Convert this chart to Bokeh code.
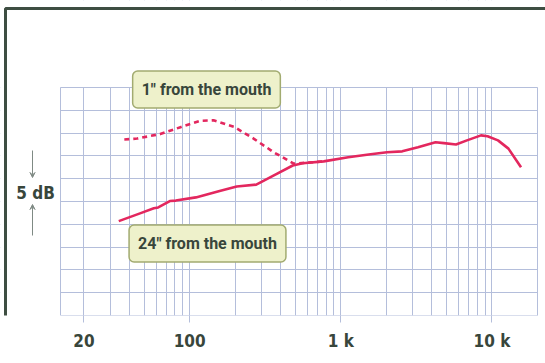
import math
from bokeh.plotting import figure
from bokeh.models import Range1d, FixedTicker, Label, Arrow, VeeHead, BoxAnnotation
from bokeh.embed import file_html
from bokeh.resources import INLINE

# ---- data ----
freq_24 = [34, 47, 58, 62, 74, 81, 110, 158, 205, 276, 369, 481, 560, 771,
           1120, 1530, 2020, 2550, 3240, 4230, 4810, 5780, 6830, 8460, 9350,
           10960, 12850, 15560]
db_24 = [20.7, 22.4, 23.5, 23.7, 25.1, 25.2, 25.9, 27.3, 28.3, 28.7, 30.9,
         32.9, 33.4, 33.8, 34.7, 35.3, 35.8, 36.0, 36.9, 38.0, 37.8, 37.5,
         38.4, 39.5, 39.3, 38.4, 36.6, 32.5]

freq_1 = [37, 45, 64, 87, 118, 144, 196, 265, 360, 488, 771]
db_1 = [38.6, 38.8, 39.8, 41.3, 42.7, 42.8, 41.4, 38.8, 35.8, 33.3, 33.8]

x_ticks = [20, 100, 1000, 10000]
x_tick_labels = ["20", "100", "1 k", "10 k"]
label_1 = '1" from the mouth'
label_24 = '24" from the mouth'
scale_label = "5 dB"

# ---- layout: grid region inside a full-canvas frame ----
W, H = 545, 363
GX0, GX1, GY0, GY1 = 60, 537, 87, 315          # grid box in canvas px
F0, F1, DB0, DB1 = 14, 20000, 0, 50            # grid box in data units
ppd = (GX1 - GX0) / math.log10(F1 / F0)        # px per decade
x_lo = 10 ** (math.log10(F0) - GX0 / ppd)
x_hi = 10 ** (math.log10(F1) + (W - GX1) / ppd)
y_hi = DB1 + GY0 / ((GY1 - GY0) / (DB1 - DB0))

GRID = "#b4bedb"
RED = "#e3275e"
TXT = "#38463b"
NARROW = "'Liberation Sans Narrow', 'DejaVu Sans Condensed', sans-serif"
BOXFONT = "Roboto"

p = figure(width=W, height=H, x_axis_type="log",
           x_range=Range1d(x_lo, x_hi), y_range=Range1d(DB0, y_hi),
           y_axis_location=None, output_backend="svg", toolbar_location=None,
           min_border_left=0, min_border_right=0, min_border_top=0,
           min_border_bottom=H - GY1)
p.background_fill_color = "white"
p.border_fill_color = "white"
p.outline_line_color = None

grid_freqs = [m * d for d in (10, 100, 1000) for m in range(2, 10)] + [100, 1000, 10000, 20000]
p.xgrid.ticker = FixedTicker(ticks=grid_freqs)
p.ygrid.ticker = FixedTicker(ticks=list(range(DB0, DB1 + 1, 5)))
p.xgrid.bounds = (F0, F1)
p.ygrid.bounds = (DB0, DB1)
p.xgrid.grid_line_color = GRID
p.ygrid.grid_line_color = GRID

# white masks so the grid lines stay inside the grid box
for kw in (dict(bottom=DB1), dict(right=F0), dict(left=F1)):
    p.add_layout(BoxAnnotation(fill_color="white", fill_alpha=1, line_color=None, **kw))
# grid border
p.add_layout(BoxAnnotation(left=F0, right=F1, bottom=DB0, top=DB1,
                           fill_color=None, line_color=GRID, line_alpha=1,
                           line_width=1))

ax = p.xaxis[0]
ax.ticker = FixedTicker(ticks=x_ticks)
ax.major_label_overrides = {t: l for t, l in zip(x_ticks, x_tick_labels)}
ax.axis_line_color = None
ax.major_tick_line_color = GRID
ax.major_tick_out = 7
ax.major_tick_in = 0
ax.minor_tick_line_color = None
ax.major_label_standoff = 8
ax.major_label_text_font = NARROW
ax.major_label_text_font_style = "bold"
ax.major_label_text_font_size = "17px"
ax.major_label_text_color = TXT

# curves
p.line(freq_1, db_1, line_color=RED, line_width=2.6, line_dash="5 4")
p.line(freq_24, db_24, line_color=RED, line_width=2.6)

# outer frame of the figure
p.add_layout(BoxAnnotation(left=5, right=W + 20, top=8, bottom=H + 20,
                           left_units="canvas", right_units="canvas",
                           top_units="canvas", bottom_units="canvas",
                           fill_color=None, line_color="#3e4e42",
                           line_alpha=1, line_width=3))

# callout boxes
for txt, cx, cy in ((label_1, 206, 89), (label_24, 207, 243)):
    p.add_layout(Label(x=cx, y=cy, x_units="canvas", y_units="canvas",
                       text=txt, text_align="center",
                       text_baseline="middle", text_font=BOXFONT,
                       text_font_style="bold", text_font_size="16px",
                       text_color=TXT, background_fill_color="#eef1cb",
                       border_line_color="#a2ab70", border_line_width=1.5,
                       border_radius=5, padding=9))

# 5 dB scale marker
p.add_layout(Label(x=35, y=192, x_units="canvas", y_units="canvas",
                   text=scale_label, text_align="center",
                   text_baseline="middle", text_font=NARROW,
                   text_font_style="bold", text_font_size="17px",
                   text_color=TXT))
AR = "#7f8a84"
for y0, y1 in ((150, 177), (235, 204)):
    p.add_layout(Arrow(x_start=32, y_start=y0, x_end=32, y_end=y1,
                       start_units="canvas", end_units="canvas",
                       line_color=AR, line_width=1,
                       end=VeeHead(size=5, line_color=AR, fill_color=AR)))

open("out.html", "w").write(file_html(p, INLINE))
